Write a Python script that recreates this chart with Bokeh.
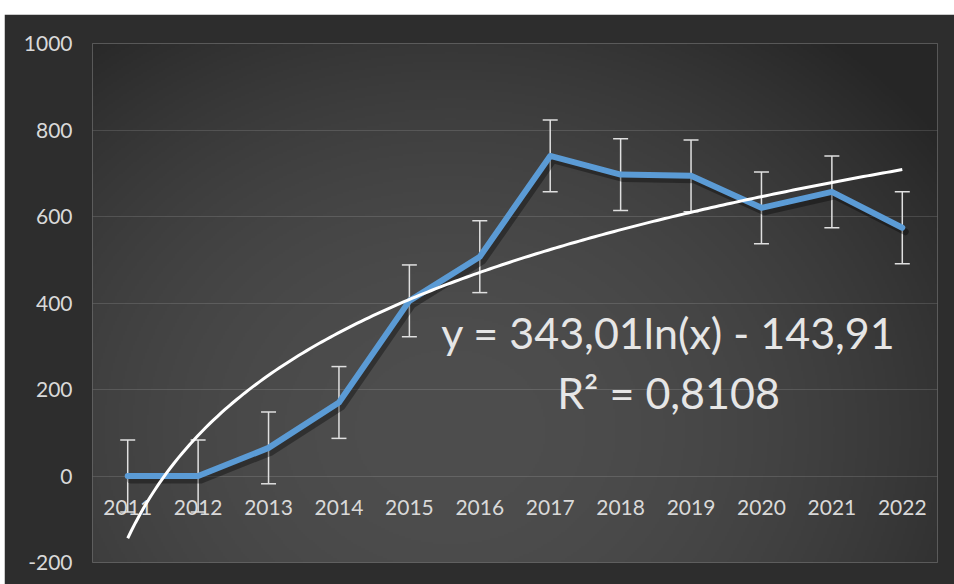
import numpy as np
from bokeh.plotting import figure
from bokeh.models import ColumnDataSource, Whisker, TeeHead, FixedTicker, Label, Range1d, Spacer
from bokeh.layouts import column, row
from bokeh.core.properties import value
from bokeh.embed import file_html
from bokeh.resources import INLINE

# ---- data ----
years = [2011, 2012, 2013, 2014, 2015, 2016, 2017, 2018, 2019, 2020, 2021, 2022]
values = [0, 0, 65, 170, 405, 507, 740, 697, 694, 620, 657, 574]
errors = [83, 83, 83, 83, 83, 83, 83, 83, 83, 83, 83, 83]
year_labels = [str(y) for y in years]
y_ticks = [-200, 0, 200, 400, 600, 800, 1000]
y_tick_labels = ["-200", "0", "200", "400", "600", "800", "1000"]
trend_a = 343.01
trend_b = -143.91
trend_equation = "y = 343,01ln(x) - 143,91"
trend_r2 = "R² = 0,8108"

FONT = "Lato"
TXT = "#d9d9d9"

X0, X1 = 2010.5, 2022.5
Y0, Y1 = -200, 1000

p = figure(width=950, height=570,
           x_range=Range1d(X0, X1), y_range=Range1d(Y0, Y1),
           output_backend="svg", toolbar_location=None,
           min_border_left=88, min_border_right=17,
           min_border_top=29, min_border_bottom=22)

p.border_fill_color = "#2d2d2d"
p.background_fill_color = "#3c3c3c"
p.outline_line_color = None

# radial gradient background inside the frame
H, W = 260, 423
jj, ii = np.meshgrid(np.arange(W), np.arange(H))
page_x = 92 + (jj + 0.5) * 845 / W
page_y = 562 - (ii + 0.5) * 519 / H
r2 = ((page_x - 450) / 560) ** 2 + ((page_y - 430) / 470) ** 2
c = np.clip(78 - 34 * r2, 38, 80).astype(np.uint32)
img = (255 << 24) | (c << 16) | (c << 8) | c
bg = p.image_rgba(image=[img.astype(np.uint32)], x=X0, y=Y0, dw=X1 - X0, dh=Y1 - Y0)
bg.level = "image"

# axes
p.xaxis.visible = False
p.xgrid.visible = False
p.yaxis.ticker = FixedTicker(ticks=y_ticks)
p.yaxis.major_label_overrides = {t: s for t, s in zip(y_ticks, y_tick_labels)}
p.yaxis.axis_line_color = None
p.yaxis.major_tick_line_color = None
p.yaxis.minor_tick_line_color = None
p.yaxis.major_label_text_color = TXT
p.yaxis.major_label_text_font = FONT
p.yaxis.major_label_text_font_size = "21px"
p.yaxis.major_label_standoff = 14
p.ygrid.grid_line_color = "white"
p.ygrid.grid_line_alpha = 0.13

# category labels sitting at y = 0 (like Excel's crossing axis)
lab = p.text(x=years, y=0, text=year_labels, text_align="center", text_baseline="middle",
             y_offset=31, text_font=value(FONT), text_font_size="21px", text_color=TXT)
lab.level = "underlay"

# error bars
src = ColumnDataSource(dict(
    x=years, y=values,
    upper=[v + e for v, e in zip(values, errors)],
    lower=[v - e for v, e in zip(values, errors)],
))
wk = Whisker(base="x", upper="upper", lower="lower", source=src,
             line_color="#e0e0e0", line_width=1.5,
             upper_head=TeeHead(size=15, line_color="#e0e0e0", line_width=1.5),
             lower_head=TeeHead(size=15, line_color="#e0e0e0", line_width=1.5))
p.add_layout(wk)

# drop shadow of the main series (same data, ranges nudged a few pixels)
dx = 3 * (X1 - X0) / 845
dy = 4 * (Y1 - Y0) / 519
p.extra_x_ranges = {"shadow": Range1d(X0 - dx, X1 - dx)}
p.extra_y_ranges = {"shadow": Range1d(Y0 + dy, Y1 + dy)}
p.line(x="x", y="y", source=src, line_color="black", line_alpha=0.35, line_width=7,
       line_join="round", line_cap="round", x_range_name="shadow", y_range_name="shadow")

# main series
p.line(x="x", y="y", source=src, line_color="#5b9bd5", line_width=6, line_join="round", line_cap="round")

# logarithmic trend line (from the displayed equation)
t = np.linspace(1, 12, 200)
p.line(x=2010 + t, y=trend_a * np.log(t) + trend_b, line_color="white", line_width=3)

p.add_layout(Label(x=2018.68, y=331, text=trend_equation, text_align="center", text_baseline="middle",
                   text_font=FONT, text_font_size="43px", text_color="#e6e6e6"))
p.add_layout(Label(x=2018.68, y=194, text=trend_r2, text_align="center", text_baseline="middle",
                   text_font=FONT, text_font_size="43px", text_color="#e6e6e6"))

layout = column(Spacer(width=954, height=14), row(Spacer(width=4, height=570), p))
open("out.html", "w").write(file_html(layout, INLINE))
